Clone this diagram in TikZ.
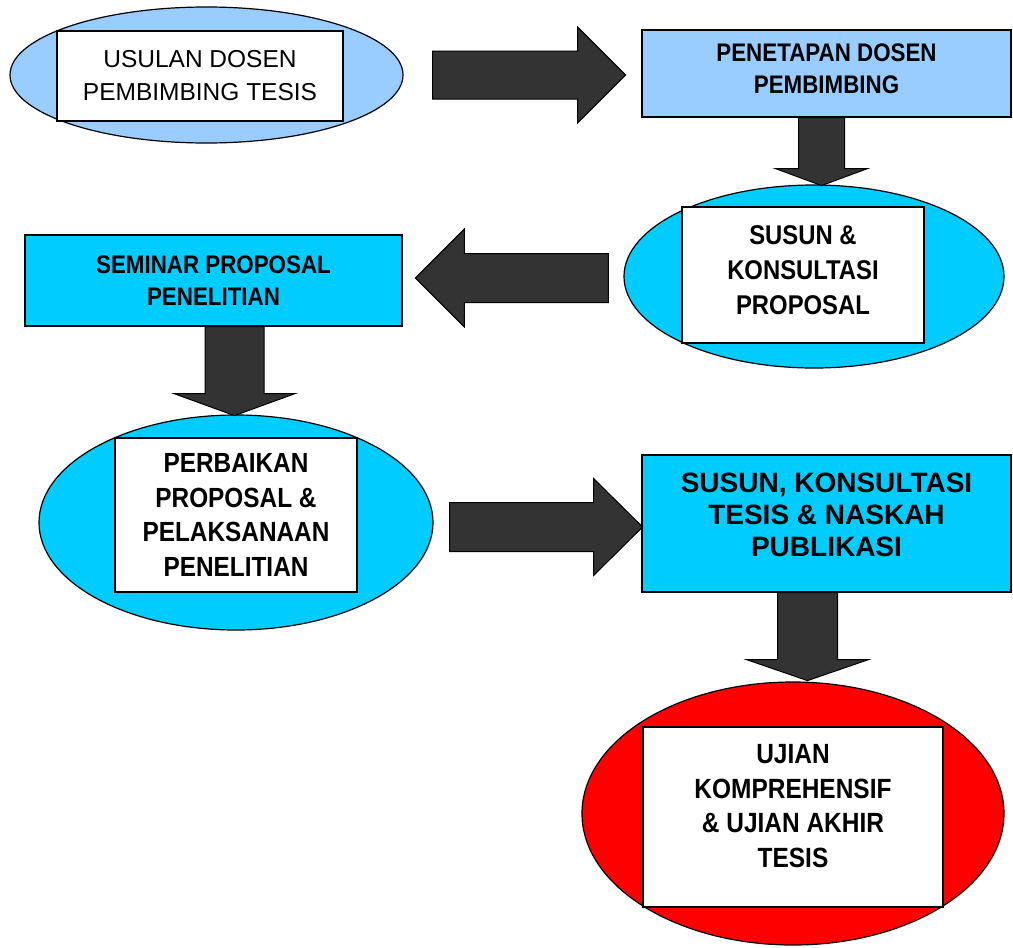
\documentclass[tikz,border=0pt]{standalone}
\usepackage{fontspec}
\setmainfont{Liberation Sans}
\newfontfamily\narrowbold{Liberation Sans}[FakeStretch=0.88]
\usetikzlibrary{positioning, shapes.geometric}

\definecolor{paleblue}{HTML}{99CCFF}
\definecolor{skyblue}{HTML}{00CCFF}
\definecolor{arrowgrey}{HTML}{333333}

\tikzset{
	oval/.style={draw, ellipse, line width=1.2pt, inner sep=0pt},
	whitebox/.style={draw, fill=white, line width=1.2pt, align=center, inner sep=0pt},
	stagebox/.style={draw, fill=skyblue, line width=1.2pt, align=center, inner sep=0pt},
	fatarrow/.style={draw, fill=arrowgrey, line width=1pt},
}

% tail, rotation, length, half shaft, half head, head length
\newcommand{\blockarrow}[6]{%
	\draw[fatarrow, shift={(#1)}, rotate=#2]
		(0,-#4) -- ({#3-#6},-#4) -- ({#3-#6},-#5) -- (#3,0)
		-- ({#3-#6},#5) -- ({#3-#6},#4) -- (0,#4) -- cycle;}

\begin{document}
\begin{tikzpicture}[x=1pt, y=-1pt]
		\useasboundingbox (0,0) rectangle (1013,948);

		\node[oval, fill=paleblue, minimum width=393, minimum height=136]
			(usulan) at (206.5,75) {};
		\node[whitebox, minimum width=286, minimum height=90,
			font=\fontsize{24.5}{33}\selectfont]
			(usulanbox) at (200,76) {USULAN DOSEN\\PEMBIMBING TESIS};

		\node[stagebox, fill=paleblue, minimum width=369, minimum height=87,
			text depth=9pt, font=\narrowbold\bfseries\fontsize{25.4}{32}\selectfont]
			(penetapan) at (826.5,73.5) {PENETAPAN DOSEN\\PEMBIMBING};

		\node[oval, fill=skyblue, minimum width=380, minimum height=183]
			(susun) at (814,276.5) {};
		\node[whitebox, minimum width=242, minimum height=136, text depth=10pt,
			font=\narrowbold\bfseries\fontsize{27.1}{35}\selectfont]
			(susunbox) at (803,275) {SUSUN \&\\KONSULTASI\\PROPOSAL};

		\node[stagebox, minimum width=377, minimum height=91,
			font=\narrowbold\bfseries\fontsize{25.4}{32}\selectfont]
			(seminar) at (213.5,280.5) {SEMINAR PROPOSAL\\PENELITIAN};

		\node[oval, fill=skyblue, minimum width=394, minimum height=215]
			(perbaikan) at (236,522.5) {};
		\node[whitebox, minimum width=242, minimum height=154,
			font=\narrowbold\bfseries\fontsize{27.7}{34.5}\selectfont]
			(perbaikanbox) at (236,515) {PERBAIKAN\\PROPOSAL \&\\PELAKSANAAN\\PENELITIAN};

		\node[stagebox, minimum width=369, minimum height=137, text depth=17pt,
			font=\bfseries\fontsize{28}{32}\selectfont]
			(naskah) at (826.5,523.5) {SUSUN, KONSULTASI\\TESIS \& NASKAH\\PUBLIKASI};

		\node[oval, fill=red, minimum width=422, minimum height=263]
			(ujian) at (793,813.5) {};
		\node[whitebox, minimum width=300, minimum height=180, text depth=22pt,
			font=\narrowbold\bfseries\fontsize{27.8}{34.5}\selectfont]
			(ujianbox) at (793,817) {UJIAN\\KOMPREHENSIF\\\& UJIAN AKHIR\\TESIS};

		\coordinate (tail1) at ([xshift=29]usulan.east);
		\coordinate (tail2) at ([xshift=-5]penetapan.south);
		\coordinate (tail3) at ([xshift=-15, yshift=-1.5]susun.west);
		\coordinate (tail4) at ([xshift=21]seminar.south);
		\coordinate (tail5) at ([xshift=16, yshift=-4.5]perbaikan.east);
		\coordinate (tail6) at ([xshift=-19]naskah.south);

		\blockarrow{tail1}{0}{193}{24}{48}{48}
		\blockarrow{tail2}{-90}{68}{23}{46}{17}
		\blockarrow{tail3}{180}{193}{24.5}{49}{49}
		\blockarrow{tail4}{-90}{89}{29.5}{60.5}{22}
		\blockarrow{tail5}{0}{193}{24.5}{48.5}{49}
		\blockarrow{tail6}{-90}{88}{30}{61}{21}
	\end{tikzpicture}
\end{document}
